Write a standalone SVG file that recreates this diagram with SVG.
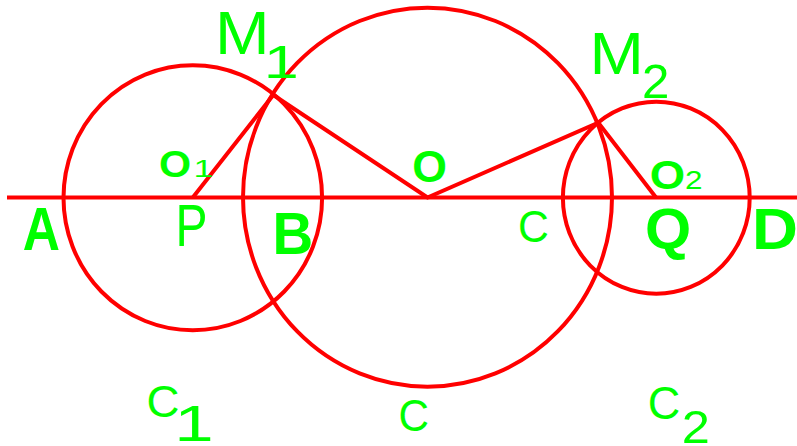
<svg xmlns="http://www.w3.org/2000/svg" width="797" height="446" viewBox="0 0 797 446">
<style>
.c{fill:none;stroke:#ff0000;stroke-width:4}
.t{fill:#00ff00;font-family:"Liberation Sans",Arial,sans-serif}
.b{font-weight:bold}
</style>
<rect width="797" height="446" fill="#ffffff"/>
<g id="circles">
<ellipse id="circle-c1" class="c" cx="192.8" cy="197.8" rx="129.3" ry="132.5"/>
<ellipse id="circle-c" class="c" cx="427.5" cy="197.2" rx="184.5" ry="189.5"/>
<ellipse id="circle-c2" class="c" cx="656.3" cy="197.7" rx="93.4" ry="96"/>
</g>
<g id="connectors">
<line class="c" x1="7" y1="197.5" x2="797" y2="197.5"/>
<polyline class="c" points="192.8,197.5 273.3,95 427.5,197.5 598.3,122.7 656,197.5"/>
</g>
<g id="labels" class="t">
<g id="label-M1">
<text x="215.1" y="54.3" font-size="60.8" textLength="54.6" lengthAdjust="spacingAndGlyphs">M</text>
<text x="263.8" y="77.7" font-size="46.5" textLength="35" lengthAdjust="spacingAndGlyphs">1</text>
</g>
<g id="label-M2">
<text x="589.5" y="74.3" font-size="59.8" textLength="54.4" lengthAdjust="spacingAndGlyphs">M</text>
<text x="641.9" y="97.7" font-size="48.9" textLength="27.4" lengthAdjust="spacingAndGlyphs">2</text>
</g>
<text id="label-A" class="b" x="22.7" y="250" font-size="60.5" textLength="37.2" lengthAdjust="spacingAndGlyphs">A</text>
<text id="label-P" x="175.6" y="246" font-size="59.6" textLength="32" lengthAdjust="spacingAndGlyphs">P</text>
<text id="label-B" class="b" x="272.6" y="253.7" font-size="58.7" textLength="40.7" lengthAdjust="spacingAndGlyphs">B</text>
<text id="label-O" class="b" x="412.2" y="182.4" font-size="44.6" textLength="34.7" lengthAdjust="spacingAndGlyphs">O</text>
<g id="label-O1">
<text class="b" x="159" y="176.6" font-size="37.3" textLength="32.1" lengthAdjust="spacingAndGlyphs">O</text>
<text x="193.4" y="176.7" font-size="23.2" textLength="19.8" lengthAdjust="spacingAndGlyphs">1</text>
</g>
<g id="label-O2">
<text class="b" x="649.8" y="188.5" font-size="40.1" textLength="35.4" lengthAdjust="spacingAndGlyphs">O</text>
<text x="685.1" y="189.3" font-size="25.2" textLength="17.5" lengthAdjust="spacingAndGlyphs">2</text>
</g>
<text id="label-C-mid" x="517.9" y="241.7" font-size="44.5" textLength="30.9" lengthAdjust="spacingAndGlyphs">C</text>
<text id="label-Q" class="b" x="644.9" y="248.5" font-size="58.2" textLength="46.2" lengthAdjust="spacingAndGlyphs">Q</text>
<text id="label-D" class="b" x="752" y="249.3" font-size="58.1" textLength="46" lengthAdjust="spacingAndGlyphs">D</text>
<g id="label-C1">
<text x="146.4" y="417.3" font-size="44" textLength="33" lengthAdjust="spacingAndGlyphs">C</text>
<text x="174.3" y="441" font-size="49.4" textLength="39.4" lengthAdjust="spacingAndGlyphs">1</text>
</g>
<text id="label-C" x="398.4" y="430.5" font-size="45.2" textLength="30.5" lengthAdjust="spacingAndGlyphs">C</text>
<g id="label-C2">
<text x="647.7" y="418.7" font-size="45.4" textLength="32.5" lengthAdjust="spacingAndGlyphs">C</text>
<text x="681.8" y="443" font-size="46.2" textLength="28.1" lengthAdjust="spacingAndGlyphs">2</text>
</g>
</g>
</svg>
